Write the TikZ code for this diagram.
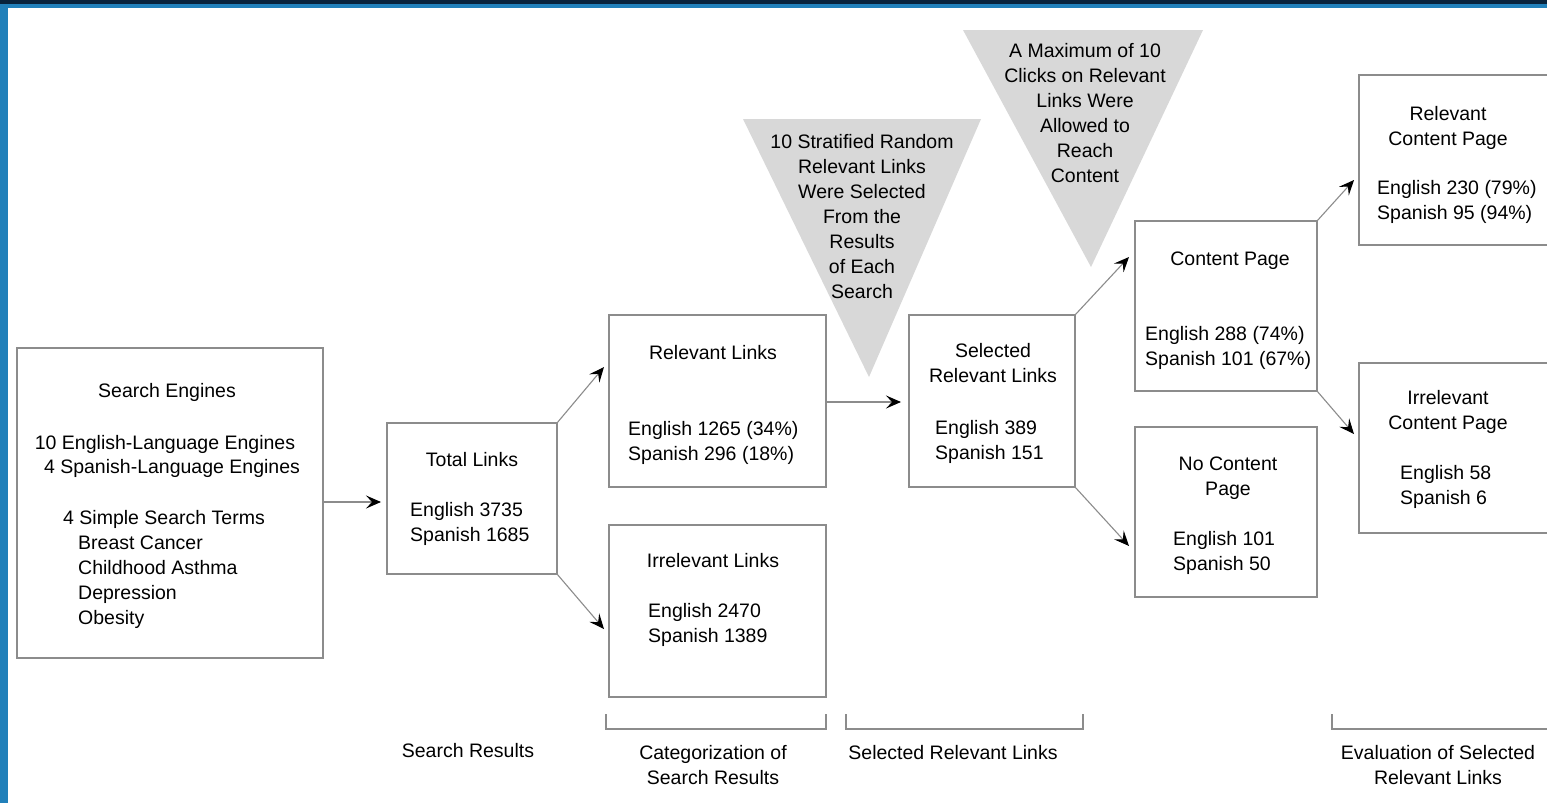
\documentclass[tikz,border=0pt]{standalone}
\usepackage{fontspec}
\setmainfont{Liberation Sans}
\usetikzlibrary{arrows.meta}
\definecolor{frameblue}{RGB}{33,128,186}
\definecolor{framedark}{RGB}{8,35,60}
\definecolor{linegray}{RGB}{140,140,140}
\definecolor{trigray}{RGB}{216,216,216}
\begin{document}
\begin{tikzpicture}[x=1pt,y=-1pt,
  every node/.style={font=\fontsize{19.5}{25}\selectfont},
  box/.style={draw=linegray, line width=1.1pt, inner sep=0pt, outer sep=0pt},
  arr/.style={draw=linegray, line width=1.1pt, -{Stealth[length=15pt,width=13pt,inset=6pt,color=black]}},
  brk/.style={draw=linegray, line width=1.1pt},
  txtc/.style={anchor=base, align=center, inner sep=0pt},
  txtl/.style={anchor=base west, align=left, inner sep=0pt}]
\useasboundingbox (0,0) rectangle (1547,803);
\clip (0,0) rectangle (1547,803);
\fill[white] (0,0) rectangle (1547,803);
\fill[frameblue] (0,0) rectangle (8,803);
\fill[frameblue] (0,0) rectangle (1547,8);
\fill[framedark] (0,0) rectangle (1547,4);

% triangles
\fill[trigray] (743,119) -- (981,119) -- (869,377) -- cycle;
\fill[trigray] (963,30) -- (1203,30) -- (1091,267) -- cycle;

% boxes
\node[box, minimum width=306pt, minimum height=310pt] (se)  at (170,503) {};
\node[box, minimum width=170pt, minimum height=151pt] (tot) at (472,498.5) {};
\node[box, minimum width=217pt, minimum height=172pt] (rel) at (717.5,401) {};
\node[box, minimum width=217pt, minimum height=172pt] (irr) at (717.5,611) {};
\node[box, minimum width=166pt, minimum height=172pt] (sel) at (992,401) {};
\node[box, minimum width=182pt, minimum height=170pt] (cp)  at (1226,306) {};
\node[box, minimum width=182pt, minimum height=170pt] (ncp) at (1226,512) {};
\node[box, minimum width=200pt, minimum height=170pt] (rcp) at (1459,160) {};
\node[box, minimum width=200pt, minimum height=170pt] (icp) at (1459,448) {};

% arrow tips
\coordinate (tTot) at (381,502);
\coordinate (tRel) at (604,367);
\coordinate (tIrr) at (604,629);
\coordinate (tSel) at (901,402);
\coordinate (tCp)  at (1129,257);
\coordinate (tNcp) at (1129,546);
\coordinate (tRcp) at (1354,180);
\coordinate (tIcp) at (1354,434);

\draw[arr] (se.east |- tTot) -- (tTot);
\draw[arr] (tot.north east) -- (tRel);
\draw[arr] (tot.south east) -- (tIrr);
\draw[arr] (rel.east |- tSel) -- (tSel);
\draw[arr] (sel.north east) -- (tCp);
\draw[arr] (sel.south east) -- (tNcp);
\draw[arr] (cp.north east) -- (tRcp);
\draw[arr] (cp.south east) -- (tIcp);

% texts (multi-line nodes: base anchor = last line)
\node[txtc] (seT)  at (167,397) {Search Engines};
\node[txtc] (seL1) at (165,449) {10 English-Language Engines};
\node[txtc] (seL2) at (172,473) {4 Spanish-Language Engines};
\node[txtc] (seL3) at (164,524) {4 Simple Search Terms};
\node[txtl] (seL4) at (78,624) {Breast Cancer\\Childhood Asthma\\Depression\\Obesity};

\node[txtc] (totT) at (472,466) {Total Links};
\node[txtl] (totD) at (410,541) {English 3735\\Spanish 1685};

\node[txtc] (relT) at (713,359) {Relevant Links};
\node[txtl] (relD) at (628,460) {English 1265 (34\%)\\Spanish 296 (18\%)};

\node[txtc] (irrT) at (713,567) {Irrelevant Links};
\node[txtl] (irrD) at (648,642) {English 2470\\Spanish 1389};

\node[txtc] (selT) at (993,382) {Selected\\Relevant Links};
\node[txtl] (selD) at (935,459) {English 389\\Spanish 151};

\node[txtc] (cpT) at (1230,265) {Content Page};
\node[txtl] (cpD) at (1145,365) {English 288 (74\%)\\Spanish 101 (67\%)};

\node[txtc] (ncpT) at (1228,495) {No Content\\Page};
\node[txtl] (ncpD) at (1173,570) {English 101\\Spanish 50};

\node[txtc] (rcpT) at (1448,145) {Relevant\\Content Page};
\node[txtl] (rcpD) at (1377,219) {English 230 (79\%)\\Spanish 95 (94\%)};

\node[txtc] (icpT) at (1448,429) {Irrelevant\\Content Page};
\node[txtl] (icpD) at (1400,504) {English 58\\Spanish 6};

\node[txtc] (tri1T) at (862,298) {10 Stratified Random\\Relevant Links\\Were Selected\\From the\\Results\\of Each\\Search};
\node[txtc] (tri2T) at (1085,182) {A Maximum of 10\\Clicks on Relevant\\Links Were\\Allowed to\\Reach\\Content};

% brackets
\draw[brk] (606,714) -- (606,729) -- (826,729) -- (826,714);
\draw[brk] (846,714) -- (846,729) -- (1083,729) -- (1083,714);
\draw[brk] (1332,714) -- (1332,729) -- (1560,729);

\node[txtc] (labA) at (468,757) {Search Results};
\node[txtc] (labB) at (713,784) {Categorization of\\Search Results};
\node[txtc] (labC) at (953,759) {Selected Relevant Links};
\node[txtc] (labD) at (1438,784) {Evaluation of Selected\\Relevant Links};
\end{tikzpicture}
\end{document}
